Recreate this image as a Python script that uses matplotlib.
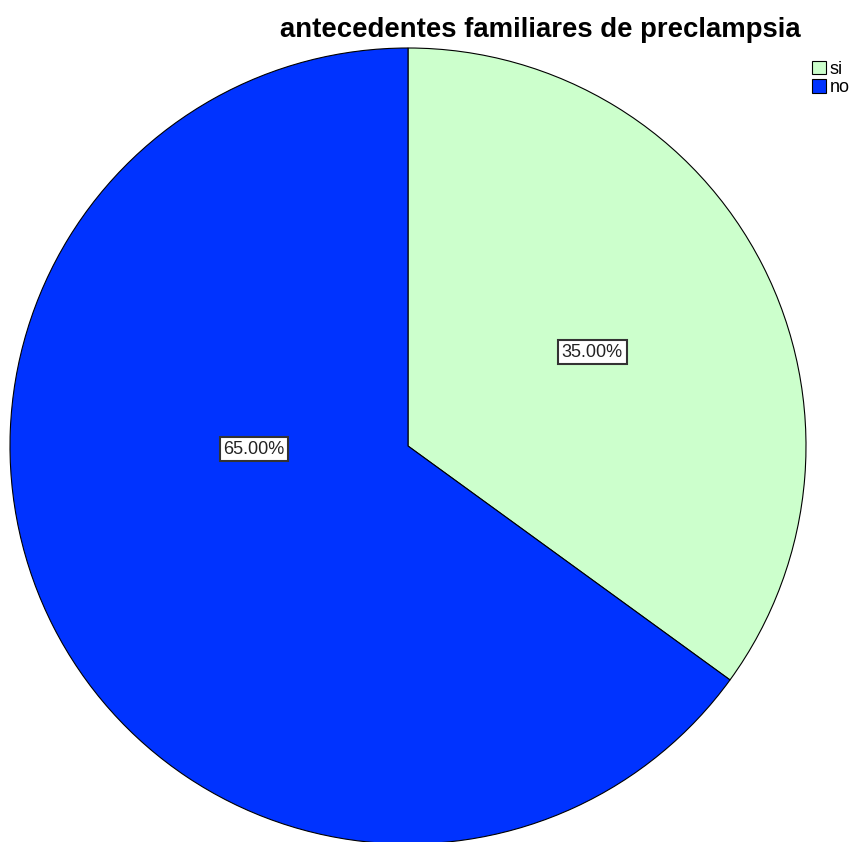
import matplotlib.pyplot as plt
from matplotlib.patches import Patch

categories = ["si", "no"]
values = [35.0, 65.0]
colors = ["#CCFFCC", "#0033FF"]
title = "antecedentes familiares de preclampsia"

plt.rcParams['font.family'] = ['Liberation Sans', 'DejaVu Sans']

fig = plt.figure(figsize=(8.56, 8.42), dpi=100)
# pie occupies a square of ~796 px, centred near (408, 446)
ax = fig.add_axes([10 / 856, (842 - 844) / 842, 796 / 856, 796 / 842])

wedges, texts, autotexts = ax.pie(
    values, colors=colors, startangle=90, counterclock=False,
    autopct="%.2f%%", pctdistance=0.52,
    wedgeprops=dict(edgecolor="black", linewidth=0.8),
    textprops=dict(fontsize=13, color="#222222"),
)
ax.set_xlim(-1, 1)
ax.set_ylim(-1, 1)
ax.set_aspect("auto")

# SPSS places the larger label closer to the middle
label_pos = [None, (-0.387, -0.008)]
for t, p in zip(autotexts, label_pos):
    if p is not None:
        t.set_position(p)
    t.set_bbox(dict(boxstyle="square,pad=0.2", facecolor="white",
                    edgecolor="#333333", linewidth=1.5))

fig.text(540 / 856, 1 - 30 / 842, title, ha="center", va="center",
         fontsize=19.8, fontweight="bold")

handles = [Patch(facecolor=c, edgecolor="black", linewidth=0.8) for c in colors]
fig.legend(handles, categories, loc="upper left",
           bbox_to_anchor=(799 / 856, 1 - 48 / 842), frameon=False,
           fontsize=13, handlelength=0.8, handleheight=0.8,
           handletextpad=0.2, labelspacing=0.05, borderpad=0.2)

fig.savefig("out.png", dpi=100)
